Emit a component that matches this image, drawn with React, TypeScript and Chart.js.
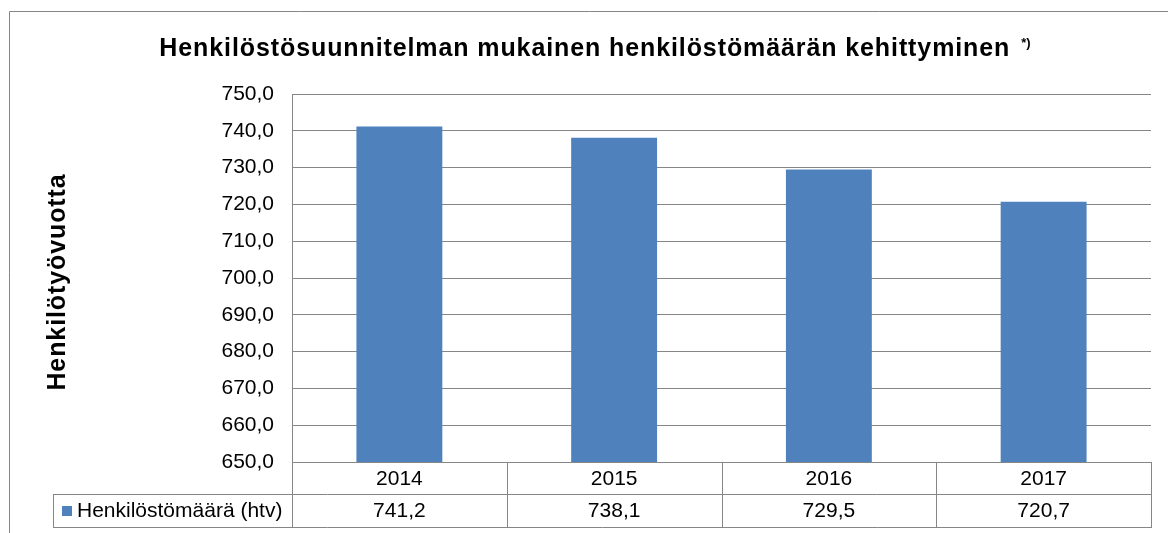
import { useEffect, useRef } from 'react';
import { Chart, registerables } from 'chart.js';

Chart.register(...registerables);

const categories = ['2014', '2015', '2016', '2017'];
const seriesName = 'Henkilöstömäärä (htv)';
const values = [741.2, 738.1, 729.5, 720.7];
const yTicks = [650, 660, 670, 680, 690, 700, 710, 720, 730, 740, 750];
const titleText = 'Henkilöstösuunnitelman mukainen henkilöstömäärän kehittyminen';
const titleSup = '*)';
const yTitle = 'Henkilötyövuotta';

const FONT = '"Liberation Sans", Arial, sans-serif';
const LINE = '#868686';
const BAR = '#4F81BD';
const TITLE_FONT = `bold 25px ${FONT}`;
const TITLE_SPACING = '0.9px';

const fmt = (v: number) => v.toFixed(1).replace('.', ',');

const framePlugin = {
  id: 'frame',
  beforeDraw(chart: any) {
    const ctx = chart.ctx;
    ctx.save();
    ctx.strokeStyle = LINE;
    ctx.lineWidth = 1;
    ctx.beginPath();
    ctx.moveTo(9.5, 600);
    ctx.lineTo(9.5, 11.5);
    ctx.lineTo(1200, 11.5);
    ctx.stroke();
    ctx.restore();
  },
};

const titlePlugin = {
  id: 'customTitle',
  afterDraw(chart: any) {
    const ctx = chart.ctx;
    ctx.save();
    ctx.fillStyle = '#000';
    ctx.textBaseline = 'alphabetic';
    ctx.textAlign = 'left';
    (ctx as any).letterSpacing = TITLE_SPACING;
    ctx.font = TITLE_FONT;
    const mainW = ctx.measureText(titleText).width;
    (ctx as any).letterSpacing = '0px';
    ctx.font = `bold 13px ${FONT}`;
    const supW = ctx.measureText(titleSup).width;
    const gap = 11;
    const total = mainW + gap + supW;
    const center = 595;
    const x0 = center - total / 2;
    (ctx as any).letterSpacing = TITLE_SPACING;
    ctx.font = TITLE_FONT;
    ctx.fillText(titleText, x0, 56);
    (ctx as any).letterSpacing = '0px';
    ctx.font = `bold 13px ${FONT}`;
    ctx.fillText(titleSup, x0 + mainW + gap, 47);

    const area = chart.chartArea;
    ctx.translate(58, (area.top + area.bottom) / 2 + 4);
    ctx.rotate(-Math.PI / 2);
    ctx.textAlign = 'center';
    ctx.textBaseline = 'middle';
    (ctx as any).letterSpacing = TITLE_SPACING;
    ctx.font = TITLE_FONT;
    ctx.fillText(yTitle, 0, 0);
    ctx.restore();
  },
};

const tablePlugin = {
  id: 'dataTable',
  afterDraw(chart: any) {
    const ctx = chart.ctx;
    const x = chart.scales.x;
    const area = chart.chartArea;
    const top = Math.round(area.bottom);
    const rowH = 32;
    const r1 = top + rowH;
    const r2 = r1 + rowH + 1;
    const left = Math.round(area.left);
    const right = Math.round(area.right);
    const legendLeft = 53;
    const catW = (x.right - x.left) / categories.length;

    ctx.save();
    ctx.strokeStyle = LINE;
    ctx.lineWidth = 1;
    ctx.beginPath();
    ctx.moveTo(left, top + 0.5);
    ctx.lineTo(right, top + 0.5);
    ctx.moveTo(legendLeft, r1 + 0.5);
    ctx.lineTo(right, r1 + 0.5);
    ctx.moveTo(legendLeft, r2 + 0.5);
    ctx.lineTo(right + 1, r2 + 0.5);
    ctx.moveTo(left + 0.5, top);
    ctx.lineTo(left + 0.5, r2);
    ctx.moveTo(legendLeft + 0.5, r1);
    ctx.lineTo(legendLeft + 0.5, r2);
    categories.forEach((_, i) => {
      const bx = Math.round(x.getPixelForValue(i) + catW / 2) + 0.5;
      ctx.moveTo(bx, top);
      ctx.lineTo(bx, r2);
    });
    ctx.stroke();

    ctx.fillStyle = '#000';
    ctx.font = `21px ${FONT}`;
    ctx.textAlign = 'center';
    ctx.textBaseline = 'middle';
    categories.forEach((c, i) => {
      const cx = x.getPixelForValue(i);
      ctx.fillText(c, cx, (top + r1) / 2 + 1);
      ctx.fillText(fmt(values[i]), cx, (r1 + r2) / 2 + 1);
    });

    ctx.fillStyle = BAR;
    const ky = (r1 + r2) / 2;
    ctx.fillRect(62, Math.round(ky - 5), 10, 10);
    ctx.fillStyle = '#000';
    ctx.textAlign = 'left';
    ctx.fillText(seriesName, 77, ky + 1);
    ctx.restore();
  },
};

export default function App() {
  const ref = useRef<HTMLCanvasElement | null>(null);

  useEffect(() => {
    if (!ref.current) return;
    Chart.defaults.font.family = FONT;
    const chart = new Chart(ref.current, {
      type: 'bar',
      data: {
        labels: categories,
        datasets: [
          {
            label: seriesName,
            data: values,
            backgroundColor: BAR,
            borderWidth: 0,
            barPercentage: 0.4,
            categoryPercentage: 1,
          },
        ],
      },
      options: {
        animation: false,
        responsive: false,
        maintainAspectRatio: false,
        layout: { padding: { left: 10, top: 94, right: 17, bottom: 71 } },
        plugins: {
          legend: { display: false },
          title: { display: false },
          tooltip: { enabled: false },
        },
        scales: {
          x: { display: false },
          y: {
            min: yTicks[0],
            max: yTicks[yTicks.length - 1],
            afterBuildTicks: (s: any) => {
              s.ticks = yTicks.map((v) => ({ value: v }));
            },
            afterFit: (s: any) => {
              s.width = 282;
            },
            ticks: {
              callback: (v: any) => fmt(Number(v)),
              color: '#000',
              font: { size: 21, family: FONT },
              padding: 18,
            },
            grid: { color: LINE, lineWidth: 1, drawTicks: false },
            border: { color: LINE, width: 1 },
          },
        },
      },
      plugins: [framePlugin, titlePlugin, tablePlugin],
    });
    return () => chart.destroy();
  }, []);

  return (
    <div style={{ position: 'absolute', left: 0, top: 0, width: 1168, height: 533, background: '#fff' }}>
      <canvas ref={ref} width={1168} height={533} style={{ display: 'block' }} />
    </div>
  );
}
